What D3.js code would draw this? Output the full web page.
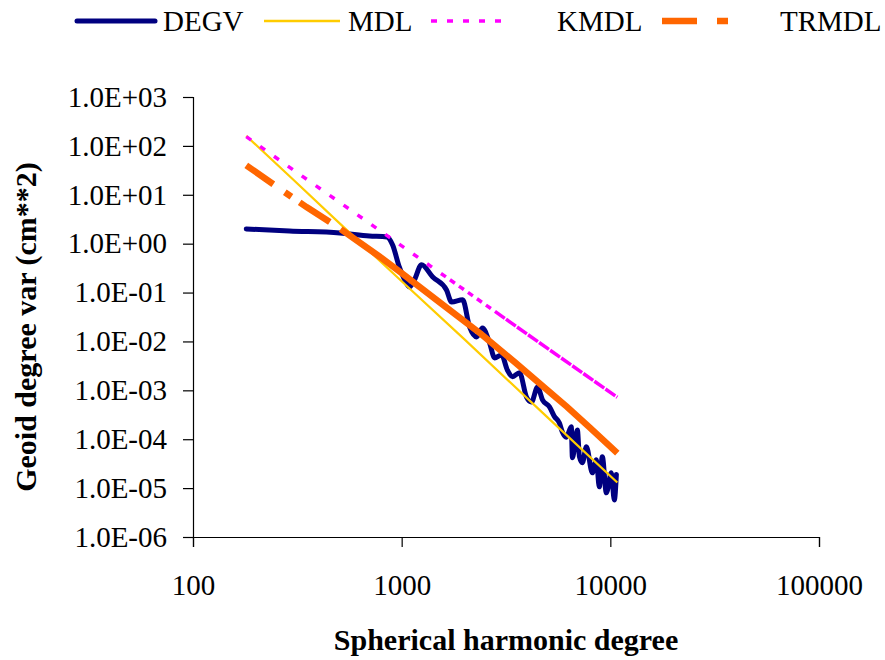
<!DOCTYPE html>
<html>
	<head>
		<title>Geoid degree variances</title>
		<style>
			body,
			html {
				margin: 0;
				padding: 0;
				background: #fff;
			}
		</style>
	</head>
	<body>
		<svg id="svg" width="885" height="660"></svg>

		<script src="https://d3js.org/d3.v7.min.js"></script>
		<script>
			// values (degree, cm**2)
			const degvDegree = [180, 290, 505, 700, 850, 905, 975, 1035, 1090, 1150, 1245, 1405, 1640, 1735, 1960, 2115, 2285, 2440, 2640, 2790, 3010, 3210, 3400, 3670, 3965, 4190, 4480, 4730, 5110, 5400, 5700, 5890, 6155, 6500, 6580, 6950, 7110, 7345, 7680, 8200, 8570, 8855, 9155, 9570, 10110, 10450, 10690];
			const degvVar = [2.0, 1.82, 1.66, 1.44, 1.37, 0.94, 0.33, 0.18, 0.13, 0.18, 0.37, 0.21, 0.113, 0.064, 0.071, 0.0198, 0.0124, 0.0189, 0.0093, 0.0046, 0.0053, 0.0026, 0.0019, 0.0023, 7.3e-4, 5.8e-4, 1.17e-3, 6.4e-4, 4.6e-4, 2.9e-4, 2.15e-4, 1.4e-4, 1.1e-4, 1.8e-4, 4.2e-5, 1.55e-4, 4.4e-5, 3.3e-5, 7.0e-5, 2.05e-5, 3.8e-5, 1.06e-5, 4.4e-5, 8.0e-6, 2.05e-5, 5.7e-6, 1.9e-5];

			const mdlDegree = [180, 300, 500, 1000, 2000, 5000, 10800];
			const mdlVar = [160, 21, 2.7, 0.17, 0.011, 2.8e-4, 1.3e-5];

			const kmdlDegree = [180, 300, 500, 1000, 2000, 5000, 10800];
			const kmdlVar = [155, 33, 7.2, 0.9, 0.113, 7.2e-3, 7.2e-4];

			const trmdlDegree = [180, 250, 350, 500, 785, 1000, 1500, 2400, 3500, 5000, 6200, 8000, 10800];
			const trmdlVar = [40, 15, 5.6, 2.1, 0.54, 0.25, 0.066, 0.0142, 0.0037, 1.0e-3, 4.6e-4, 1.7e-4, 5.2e-5];

			const xTicks = [100, 1000, 10000, 100000];
			const xTickLabels = ['100', '1000', '10000', '100000'];
			const yTicks = [1e3, 1e2, 1e1, 1e0, 1e-1, 1e-2, 1e-3, 1e-4, 1e-5, 1e-6];
			const yTickLabels = ['1.0E+03', '1.0E+02', '1.0E+01', '1.0E+00', '1.0E-01', '1.0E-02', '1.0E-03', '1.0E-04', '1.0E-05', '1.0E-06'];

			const seriesNames = ['DEGV', 'MDL', 'KMDL', 'TRMDL'];

			const serif = "'Liberation Serif', 'Times New Roman', 'DejaVu Serif', serif";
			const svg = d3.select('#svg').attr('font-family', serif);
			svg.append('rect').attr('width', 885).attr('height', 660).attr('fill', '#fff');

			const xscale = d3.scaleLog().domain([100, 100000]).range([193, 819]);
			const yscale = d3.scaleLog().domain([1e-6, 1e3]).range([537, 97]);

			const zip = (xs, ys) => xs.map((d, i) => ({ n: d, v: ys[i] }));

			// axes
			const leftAxis = d3
				.axisLeft(yscale)
				.tickValues(yTicks)
				.tickFormat((d, i) => yTickLabels[i])
				.tickSize(10)
				.tickPadding(16);
			const bottomAxis = d3
				.axisBottom(xscale)
				.tickValues(xTicks)
				.tickFormat((d, i) => xTickLabels[i])
				.tickSize(10)
				.tickPadding(27);

			const gy = svg.append('g').attr('transform', 'translate(193, 0)').call(leftAxis);
			const gx = svg.append('g').attr('transform', 'translate(0, 537)').call(bottomAxis);
			[gx, gy].forEach((g) => {
				g.attr('font-family', serif).attr('font-size', 29);
				g.select('.domain').attr('stroke', '#000').attr('stroke-width', 1.2);
				g.selectAll('.tick line').attr('stroke', '#000').attr('stroke-width', 1.2);
				g.selectAll('.tick text').attr('fill', '#000');
			});

			// series
			const linegen = d3
				.line()
				.x((d) => xscale(d.n))
				.y((d) => yscale(d.v));

			svg
				.append('path')
				.attr('d', linegen.curve(d3.curveMonotoneX)(zip(degvDegree, degvVar)))
				.attr('fill', 'none')
				.attr('stroke', '#000080')
				.attr('stroke-width', 5)
				.attr('stroke-linejoin', 'round')
				.attr('stroke-linecap', 'round');

			linegen.curve(d3.curveLinear);

			svg
				.append('path')
				.attr('d', linegen(zip(mdlDegree, mdlVar)))
				.attr('fill', 'none')
				.attr('stroke', '#FFCC00')
				.attr('stroke-width', 2.2);

			const kmdl = svg
				.append('path')
				.attr('d', linegen(zip(kmdlDegree, kmdlVar)))
				.attr('fill', 'none')
				.attr('stroke', '#FF00FF')
				.attr('stroke-width', 3.5);

			// the dots crowd together further along the line, like in the original
			function varDash(node, rule) {
				const total = node.getTotalLength();
				const arr = [];
				let s = 0;
				while (s < total) {
					const p = node.getPointAtLength(s);
					const r = rule(p.x);
					arr.push(r[0], r[1]);
					s += r[0] + r[1];
				}
				node.setAttribute('stroke-dasharray', arr.join(','));
			}
			varDash(kmdl.node(), (x) => (x < 430 ? [6, 11] : x < 490 ? [6, 5] : [12, 1.5]));

			svg
				.append('path')
				.attr('d', linegen(zip(trmdlDegree, trmdlVar)))
				.attr('fill', 'none')
				.attr('stroke', '#FF6600')
				.attr('stroke-width', 6.5)
				.attr('stroke-dasharray', '33,14,8,10,36,13,3000');

			// titles
			svg
				.append('text')
				.attr('x', 506)
				.attr('y', 650)
				.attr('text-anchor', 'middle')
				.attr('font-size', 30)
				.attr('font-weight', 'bold')
				.text('Spherical harmonic degree');

			svg
				.append('text')
				.attr('transform', 'translate(36, 327) rotate(-90)')
				.attr('text-anchor', 'middle')
				.attr('font-size', 30)
				.attr('font-weight', 'bold')
				.text('Geoid degree var (cm**2)');

			// legend
			const legend = svg.append('g');
			const legY = 21;
			legend.append('line').attr('x1', 77).attr('x2', 155).attr('y1', legY).attr('y2', legY)
				.attr('stroke', '#000080').attr('stroke-width', 5).attr('stroke-linecap', 'round');
			legend.append('line').attr('x1', 264).attr('x2', 340).attr('y1', legY).attr('y2', legY)
				.attr('stroke', '#FFCC00').attr('stroke-width', 2.5);
			legend.append('line').attr('x1', 431).attr('x2', 510).attr('y1', legY).attr('y2', legY)
				.attr('stroke', '#FF00FF').attr('stroke-width', 3.5).attr('stroke-dasharray', '6,10');
			legend.append('line').attr('x1', 662).attr('x2', 728).attr('y1', legY).attr('y2', legY)
				.attr('stroke', '#FF6600').attr('stroke-width', 6.5).attr('stroke-dasharray', '35,20,11,20');

			const textX = [163, 348, 557, 780];
			legend
				.selectAll('text')
				.data(seriesNames)
				.enter()
				.append('text')
				.attr('x', (d, i) => textX[i])
				.attr('y', legY + 10)
				.attr('font-size', 29)
				.text((d) => d);
		</script>
	</body>
</html>
